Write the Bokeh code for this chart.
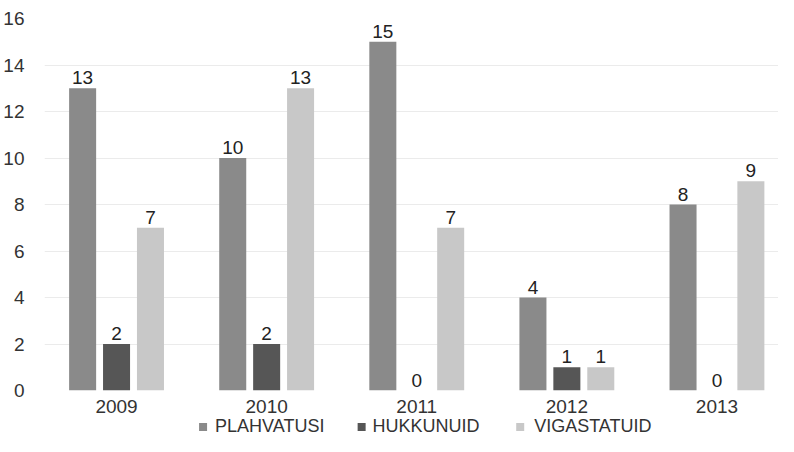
from bokeh.plotting import figure
from bokeh.layouts import column
from bokeh.models import ColumnDataSource, LabelSet, Range1d, FixedTicker
from bokeh.core.properties import value
from bokeh.embed import file_html
from bokeh.resources import INLINE

years = ["2009", "2010", "2011", "2012", "2013"]
plahvatusi = [13, 10, 15, 4, 8]
hukkunuid = [2, 2, 0, 1, 0]
vigastatuid = [7, 13, 7, 1, 9]
series_names = ["PLAHVATUSI", "HUKKUNUID", "VIGASTATUID"]
colors = ["#8a8a8a", "#565656", "#c8c8c8"]
y_ticks = [0, 2, 4, 6, 8, 10, 12, 14, 16]

FONT = "Liberation Sans"
FS = "19px"
LEFT = 42
W = 778

xpos = [i + 0.5 for i in range(len(years))]
src = ColumnDataSource(dict(
    x=xpos,
    s0=plahvatusi, s1=hukkunuid, s2=vigastatuid,
    t0=[str(v) for v in plahvatusi],
    t1=[str(v) for v in hukkunuid],
    t2=[str(v) for v in vigastatuid],
))

p = figure(x_range=Range1d(0.02, 4.91), y_range=Range1d(0, 16), width=W, height=415,
           output_backend="svg", toolbar_location=None,
           min_border_left=LEFT, min_border_right=0, min_border_top=18,
           min_border_bottom=25)

offsets = [-0.226, 0.0, 0.226]
for i, (name, col, off) in enumerate(zip(series_names, colors, offsets)):
    src.data[f"x{i}"] = [x + off for x in xpos]
    p.vbar(x=f"x{i}", top=f"s{i}", width=0.18,
           source=src, fill_color=col, line_color=None)
    lbl = LabelSet(x=f"x{i}", y=f"s{i}", text=f"t{i}",
                   source=src, text_align="center", text_baseline="bottom",
                   y_offset=4, text_font=value(FONT), text_font_size=value(FS),
                   text_color="#222222")
    p.add_layout(lbl)

p.yaxis.ticker = FixedTicker(ticks=y_ticks)
p.yaxis.axis_line_color = None
p.yaxis.major_tick_line_color = None
p.yaxis.minor_tick_line_color = None
p.yaxis.major_label_text_font = FONT
p.yaxis.major_label_text_font_size = FS
p.yaxis.major_label_text_color = "#333333"
p.yaxis.major_label_standoff = 14

p.xaxis.ticker = FixedTicker(ticks=xpos)
p.xaxis.major_label_overrides = {x: y for x, y in zip(xpos, years)}
p.xaxis.axis_line_color = None
p.xaxis.major_tick_line_color = None
p.xaxis.minor_tick_line_color = None
p.xaxis.major_label_text_font = FONT
p.xaxis.major_label_text_font_size = FS
p.xaxis.major_label_text_color = "#333333"
p.xaxis.major_label_standoff = 3

p.xgrid.grid_line_color = None
p.ygrid.grid_line_color = "#ebebeb"
p.outline_line_color = None

# legend strip below the chart (pixel-mapped ranges, frame aligned with main plot)
LG_H = 21
lg = figure(width=W, height=LG_H, x_range=Range1d(LEFT, W), y_range=Range1d(0, LG_H),
            output_backend="svg", toolbar_location=None,
            x_axis_type=None, y_axis_type=None,
            min_border_left=LEFT, min_border_right=0, min_border_top=0, min_border_bottom=0)
lg.outline_line_color = None
lg.xgrid.grid_line_color = None
lg.ygrid.grid_line_color = None
marker_x = [201, 360, 519]
text_x = [213, 371, 533]
mid = LG_H / 2
lg.rect(x=marker_x, y=[mid - 1] * 3, width=8, height=8, width_units="screen",
        height_units="screen", fill_color=colors, line_color=None)
lg.text(x=text_x, y=[mid] * 3, text=series_names, text_font=value(FONT),
        text_font_size=value("18px"), text_color="#333333",
        text_align="left", text_baseline="middle")

layout = column(p, lg, spacing=0)
open("out.html", "w").write(file_html(layout, INLINE))
